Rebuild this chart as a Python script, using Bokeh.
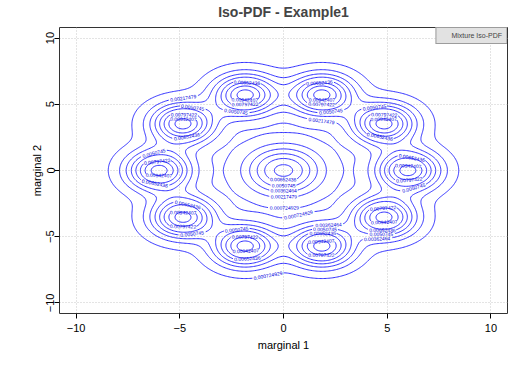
import numpy as np
from bokeh.plotting import figure
from bokeh.models import FixedTicker, Range1d, Title
from bokeh.core.properties import value
from bokeh.embed import file_html
from bokeh.resources import INLINE

# ---- data -----------------------------------------------------------------
# Gaussian mixture: ten peaks on a ring of radius 6 plus one central peak
mean_x = [6.0, 4.85, 1.85, -1.85, -4.85, -6.0, -4.85, -1.85, 1.85, 4.85, 0.0]
mean_y = [0.0, 3.53, 5.71, 5.71, 3.53, 0.0, -3.53, -5.71, -5.71, -3.53, 0.0]
sigma = [1.04, 1.04, 1.04, 1.04, 1.04, 1.04, 1.04, 1.04, 1.04, 1.04, 1.25]
weight = [0.0788, 0.0788, 0.0788, 0.0788, 0.0788, 0.0788, 0.0788, 0.0788, 0.0788, 0.0788,
          0.0833]
levels = [0.000724929, 0.00217479, 0.00362464, 0.0050745, 0.00652436,
          0.00797422, 0.00942407, 0.0108739]
ticks = [-10, -5, 0, 5, 10]
grid_lo, grid_hi, grid_n = -10.0, 10.0, 321

TITLE = "Iso-PDF - Example1"
XLABEL = "marginal 1"
YLABEL = "marginal 2"
LEGEND = "Mixture Iso-PDF"
FONT = "Liberation Sans"

# ---- layout ---------------------------------------------------------------
W, H = 508, 353
BL, BR, BT, BB = 59, 1, 26, 36
XR = (-10.8, 10.8)
YR = (-10.8, 10.8)
sx = (W - BL - BR) / (XR[1] - XR[0])
sy = (H - BT - BB) / (YR[1] - YR[0])
LFS = 5.0  # contour label font size (px)

# ---- density on a grid ----------------------------------------------------
xg = np.linspace(grid_lo, grid_hi, grid_n)
yg = np.linspace(grid_lo, grid_hi, grid_n)
X, Y = np.meshgrid(xg, yg)
Z = np.zeros_like(X)
for w, mx, my, s in zip(weight, mean_x, mean_y, sigma):
    Z += w / (2 * np.pi * s * s) * np.exp(-((X - mx) ** 2 + (Y - my) ** 2) / (2 * s * s))

# contour lines via bokeh's contour machinery
paths_by_level = []
try:
    from bokeh.plotting.contour import contour_data
    cd = contour_data(xg, yg, Z, levels, want_fill=False, want_line=True)
    for lx, ly in zip(cd.line_data.xs, cd.line_data.ys):
        lx = np.asarray(lx, float); ly = np.asarray(ly, float)
        paths = []
        if lx.size:
            nan = np.isnan(lx)
            idx = np.where(nan)[0]
            starts = np.concatenate([[0], idx + 1])
            ends = np.concatenate([idx, [lx.size]])
            for a, b in zip(starts, ends):
                if b - a > 1:
                    paths.append(np.column_stack([lx[a:b], ly[a:b]]))
        paths_by_level.append(paths)
except Exception:
    import contourpy
    gen = contourpy.contour_generator(xg, yg, Z, line_type="Separate")
    for lev in levels:
        paths_by_level.append([np.asarray(p, float) for p in gen.lines(lev)])


def text_width(t, fs):
    wd = 0.0
    for ch in t:
        wd += 0.278 if ch == "." else 0.556
    return wd * fs


placed = []
line_xs, line_ys = [], []
lab_x, lab_y, lab_t, lab_a = [], [], [], []
fx0, fx1 = XR[0] * sx, XR[1] * sx
fy0, fy1 = YR[0] * sy, YR[1] * sy

for lev, paths in zip(levels, paths_by_level):
    txt = f"{lev:g}"
    tw = text_width(txt, LFS)
    th = LFS * 0.75
    for path in paths:
        P = np.column_stack([path[:, 0] * sx, path[:, 1] * sy])
        closed = np.hypot(*(P[0] - P[-1])) < 1e-6
        seg = np.hypot(np.diff(P[:, 0]), np.diff(P[:, 1]))
        s = np.concatenate([[0.0], np.cumsum(seg)])
        L = s[-1]
        half = tw / 2 + 1.0
        accepted = None
        if L > 2.0 * tw:
            cands = []
            lo = 0.0 if closed else half
            hi = L if closed else L - half
            for s0 in np.arange(lo, hi, 1.5):
                ss = s0 + np.linspace(-tw / 2, tw / 2, 9)
                if closed:
                    ss = np.mod(ss, L)
                qx = np.interp(ss, s, P[:, 0]); qy = np.interp(ss, s, P[:, 1])
                dx = qx[-1] - qx[0]; dy = qy[-1] - qy[0]
                ch = np.hypot(dx, dy)
                if ch < 0.85 * tw:
                    continue
                dev = np.abs((qx - qx[0]) * dy - (qy - qy[0]) * dx) / ch
                cands.append((dev.max(), s0, (qx[0] + qx[-1]) / 2, (qy[0] + qy[-1]) / 2, dx, dy))
            cands.sort(key=lambda c: c[0])
            for dev, s0, cx, cy, dx, dy in cands:
                ang = np.arctan2(dy, dx)
                if ang > np.pi / 2:
                    ang -= np.pi
                if ang < -np.pi / 2:
                    ang += np.pi
                ex = tw / 2 * abs(np.cos(ang)) + th / 2 * abs(np.sin(ang))
                ey = tw / 2 * abs(np.sin(ang)) + th / 2 * abs(np.cos(ang))
                if cx - ex < fx0 or cx + ex > fx1 or cy - ey < fy0 or cy + ey > fy1:
                    continue
                ok = True
                for (px, py, pex, pey) in placed:
                    if abs(cx - px) < ex + pex and abs(cy - py) < ey + pey:
                        ok = False
                        break
                if ok:
                    accepted = (s0, cx, cy, ex, ey, ang)
                    break
        if accepted is None:
            line_xs.append(path[:, 0]); line_ys.append(path[:, 1])
            continue
        s0, cx, cy, ex, ey, ang = accepted
        placed.append((cx, cy, ex, ey))
        lab_x.append(cx / sx); lab_y.append(cy / sy); lab_t.append(txt); lab_a.append(ang)
        if closed:
            Q = path[:-1]; sq = s[:-1]
            d = np.mod(sq - s0 + L / 2, L) - L / 2
            keep = np.abs(d) > half
            n = len(Q)
            i0 = None
            for i in range(n):
                if keep[i] and not keep[i - 1]:
                    i0 = i
                    break
            if i0 is None:
                continue
            Qr = np.roll(Q, -i0, axis=0); kr = np.roll(keep, -i0)
            m = int(np.argmin(kr)) if not kr.all() else n
            line_xs.append(Qr[:m, 0]); line_ys.append(Qr[:m, 1])
        else:
            keep = np.abs(s - s0) > half
            runs = []
            cur = []
            for i in range(len(path)):
                if keep[i]:
                    cur.append(i)
                elif cur:
                    runs.append(cur); cur = []
            if cur:
                runs.append(cur)
            for r in runs:
                if len(r) > 1:
                    line_xs.append(path[r, 0]); line_ys.append(path[r, 1])

# ---- figure ---------------------------------------------------------------
p = figure(width=W, height=H, output_backend="svg", toolbar_location=None,
           x_range=Range1d(*XR), y_range=Range1d(*YR),
           min_border_left=BL, min_border_right=BR, min_border_top=BT, min_border_bottom=BB,
           title=TITLE, background_fill_color="white", border_fill_color="white")

p.title.align = "center"
p.title.text_font = FONT
p.title.text_font_size = "14px"
p.title.text_font_style = "bold"
p.title.standoff = 2
# thin spacer placed first in the "above" panel pushes the title down
spacer = Title(text=" ", text_font_size="4px", standoff=0, align="center")
p.above = [spacer] + list(p.above)

p.multi_line(line_xs, line_ys, line_color="#1a1aff", line_width=0.9)
p.text(x=lab_x, y=lab_y, text=lab_t, angle=lab_a, text_font=value(FONT),
       text_font_size=f"{LFS}px", text_align="center", text_baseline="middle",
       text_color="#0000dd")
p.line([], [], line_color="#0000ff", line_width=3, legend_label=LEGEND)

for ax in (p.xaxis[0], p.yaxis[0]):
    ax.ticker = FixedTicker(ticks=ticks)
    ax.axis_line_color = None
    ax.major_tick_line_color = "black"
    ax.major_tick_out = 5
    ax.major_tick_in = 0
    ax.minor_tick_line_color = None
    ax.major_label_text_font = FONT
    ax.major_label_text_font_size = "11px"
    ax.major_label_text_color = "black"
    ax.axis_label_text_font = FONT
    ax.axis_label_text_font_size = "11px"
    ax.axis_label_text_font_style = "normal"
    ax.axis_label_text_color = "black"
    ax.major_label_standoff = 5
    ax.axis_label_standoff = 4

p.yaxis.major_label_standoff = 0
p.yaxis.axis_label_standoff = 1
p.xaxis.axis_label = XLABEL
p.yaxis.axis_label = YLABEL
p.yaxis.major_label_orientation = "vertical"

p.grid.grid_line_color = "#c8c8c8"
p.grid.grid_line_dash = "1 2"
p.grid.grid_line_width = 1
p.outline_line_color = "#333333"
p.outline_line_width = 1

lg = p.legend[0]
lg.location = "top_right"
lg.margin = 0
lg.padding = 4
lg.spacing = 0
lg.label_text_font = FONT
lg.label_text_font_size = "7px"
lg.label_height = 7
lg.glyph_height = 5
lg.glyph_width = 8
lg.label_standoff = 3
lg.background_fill_color = "#e2e2e2"
lg.background_fill_alpha = 1.0
lg.border_line_color = "#555555"
lg.border_line_width = 1

open("out.html", "w").write(file_html(p, INLINE))
